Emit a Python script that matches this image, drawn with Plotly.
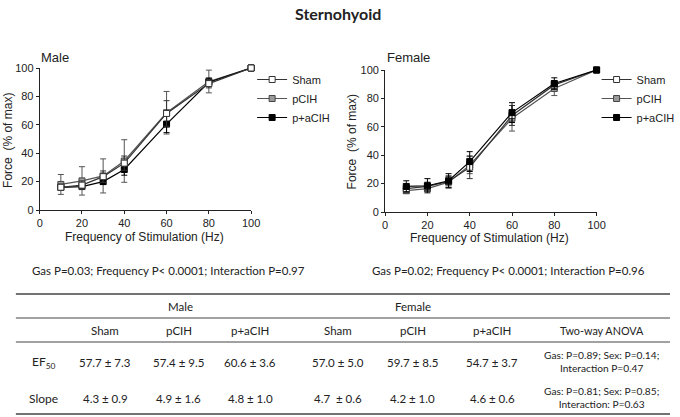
import plotly.graph_objects as go

freq = [10, 20, 30, 40, 60, 80, 100]
groups = ['Sham', 'pCIH', 'p+aCIH']

# Male force (% of max) and SD
male_sham = [16, 17.5, 23.5, 33, 68, 89, 100]
male_pcih = [18, 20.5, 24, 34.5, 68.5, 90.5, 100]
male_paci = [16, 16.5, 20, 28.5, 60.5, 90, 100]
male_sham_sd = [2, 3, 4, 5, 9, 3, 0]
male_pcih_sd = [7, 10, 12, 15, 15, 8, 0]
male_paci_sd = [2, 2, 2, 4, 6, 3, 0]

# Female force (% of max) and SD
female_sham = [16.5, 18, 21.5, 31.5, 68, 89.5, 100]
female_pcih = [15, 16.5, 21, 33, 66, 87, 100]
female_paci = [18, 18.5, 22, 35.5, 70, 90.5, 100]
female_sham_sd = [2, 3, 4, 8, 7, 3, 0]
female_pcih_sd = [2, 2, 4, 6, 9, 5, 0]
female_paci_sd = [4, 5, 5, 7, 7, 4, 0]

male_stats = 'Gas P=0.03; Frequency P< 0.0001; Interaction P=0.97'
female_stats = 'Gas P=0.02; Frequency P< 0.0001; Interaction P=0.96'

# table
table_sexes = ['Male', 'Female']
table_cols = ['Sham', 'pCIH', 'p+aCIH', 'Sham', 'pCIH', 'p+aCIH']
row_labels = ['EF<sub>50</sub>', 'Slope']
ef50_vals = ['57.7 ± 7.3', '57.4 ± 9.5', '60.6 ± 3.6', '57.0 ± 5.0', '59.7 ± 8.5', '54.7 ± 3.7']
slope_vals = ['4.3 ± 0.9', '4.9 ± 1.6', '4.8 ± 1.0', '4.7  ± 0.6', '4.2 ± 1.0', '4.6 ± 0.6']
ef50_anova = 'Gas: P=0.89; Sex: P=0.14;<br>Interaction P=0.47'
slope_anova = 'Gas: P=0.81; Sex: P=0.85;<br>Interaction: P=0.63'

W, H = 680, 417
def px(x):
    return x / W
def py(y):
    return 1 - y / H

styles = {
    'Sham': dict(line='#333333', fill='white', edge='#333333'),
    'pCIH': dict(line='#555555', fill='#9a9a9a', edge='#444444'),
    'p+aCIH': dict(line='black', fill='black', edge='black'),
}

fig = go.Figure()

panels = [
    ('x', 'y', 'legend', [male_pcih, male_paci, male_sham], [male_pcih_sd, male_paci_sd, male_sham_sd]),
    ('x2', 'y2', 'legend2', [female_pcih, female_sham, female_paci], [female_pcih_sd, female_sham_sd, female_paci_sd]),
]
orders = [['pCIH', 'p+aCIH', 'Sham'], ['pCIH', 'Sham', 'p+aCIH']]
rank = {'Sham': 1, 'pCIH': 2, 'p+aCIH': 3}

for (xa, ya, leg, ys, sds), order in zip(panels, orders):
    for name, y, sd in zip(order, ys, sds):
        st = styles[name]
        fig.add_trace(go.Scatter(
            x=freq, y=y, name=name, mode='lines+markers',
            xaxis=xa, yaxis=ya, legend=leg, legendrank=rank[name],
            line=dict(color=st['line'], width=1.2),
            marker=dict(symbol='square', size=6, color=st['fill'],
                        line=dict(color=st['edge'], width=1)),
            error_y=dict(type='data', array=sd, color=st['line'], thickness=1, width=3),
            cliponaxis=False,
        ))

axis_font = dict(family='Liberation Sans, Arial', size=11, color='#222')
title_font = dict(family='Liberation Sans, Arial', size=12, color='#222')
common = dict(range=[0, 100], tickvals=[0, 20, 40, 60, 80, 100], showline=True, linecolor='#222',
              linewidth=1, ticks='outside', ticklen=3, tickcolor='#222', showgrid=False,
              zeroline=False, tickfont=axis_font, automargin=False)

leg_font = dict(family='Liberation Sans, Arial', size=11, color='#222')
fig.update_layout(
    width=W, height=H,
    margin=dict(l=0, r=0, t=0, b=0),
    plot_bgcolor='white', paper_bgcolor='white',
    xaxis=dict(domain=[px(40), px(253)], anchor='y', **common),
    yaxis=dict(domain=[py(210), py(68)], anchor='x', **common),
    xaxis2=dict(domain=[px(388), px(601)], anchor='y2', **common),
    yaxis2=dict(domain=[py(212), py(70)], anchor='x2', **common),
    legend=dict(x=px(254), y=py(65), xanchor='left', yanchor='top', itemwidth=30,
                font=leg_font, bgcolor='rgba(0,0,0,0)', tracegroupgap=0),
    legend2=dict(x=px(601), y=py(65), xanchor='left', yanchor='top', itemwidth=30,
                 font=leg_font, bgcolor='rgba(0,0,0,0)', tracegroupgap=0),
    showlegend=True,
)

ann = []
tfont = dict(family='Lato, Noto Sans', size=11.5, color='#222')
sfont = dict(family='Lato, Noto Sans', size=11.5, color='#222')
afont = dict(family='Lato, Noto Sans', size=10.2, color='#222')
ann.append(dict(text='<b>Sternohyoid</b>', x=px(340), y=py(13), font=dict(family='Lato, Noto Sans', size=16, color='#222')))
ann.append(dict(text='Male', x=px(39), y=py(57), xanchor='left', font=dict(family='Liberation Sans, Arial', size=13, color='#222')))
ann.append(dict(text='Female', x=px(388), y=py(57), xanchor='left', font=dict(family='Liberation Sans, Arial', size=13, color='#222')))
# axis titles
for xc, yc in [(146, 237), (493, 238)]:
    ann.append(dict(text='Frequency of Stimulation (Hz)', x=px(xc), y=py(yc), font=title_font))
for xc, yc in [(8, 140), (355, 142)]:
    ann.append(dict(text='Force  (% of max)', x=px(xc), y=py(yc), textangle=-90, font=title_font))
ann.append(dict(text=male_stats, x=px(170), y=py(270), font=sfont))
ann.append(dict(text=female_stats, x=px(512), y=py(270), font=sfont))

col_x = [106, 180, 252, 340, 416, 496]
sex_x = [182, 416]
for s, cx in zip(table_sexes, sex_x):
    ann.append(dict(text=s, x=px(cx), y=py(306), font=tfont))
for c, cx in zip(table_cols, col_x):
    ann.append(dict(text=c, x=px(cx), y=py(330), font=tfont))
ann.append(dict(text='Two-way ANOVA', x=px(606), y=py(330), font=dict(family='Lato, Noto Sans', size=10.8, color='#222')))
for lbl, yy in zip(row_labels, [362, 398]):
    ann.append(dict(text=lbl, x=px(44), y=py(yy), font=dict(family='Lato, Noto Sans', size=12, color='#222')))
for v, cx in zip(ef50_vals, col_x):
    ann.append(dict(text=v, x=px(cx), y=py(362), font=tfont))
for v, cx in zip(slope_vals, col_x):
    ann.append(dict(text=v, x=px(cx), y=py(398), font=tfont))
ann.append(dict(text=ef50_anova, x=px(606), y=py(361), font=afont))
ann.append(dict(text=slope_anova, x=px(606), y=py(397), font=afont))

for a in ann:
    a.update(xref='paper', yref='paper', showarrow=False)
    a.setdefault('xanchor', 'center')
    a.setdefault('yanchor', 'middle')
fig.update_layout(annotations=ann)

shapes = []
for yy, w in [(294, 1.5), (318, 1), (342, 1), (414, 1.5)]:
    shapes.append(dict(type='line', xref='paper', yref='paper', x0=px(16), x1=px(675),
                       y0=py(yy), y1=py(yy), line=dict(color='#444', width=w)))
fig.update_layout(shapes=shapes)

# drop the page's default 8px body margin so the figure fills the window
fig.write_html('out.html', config={'displayModeBar': False},
               post_script="document.body.style.margin='0';")
